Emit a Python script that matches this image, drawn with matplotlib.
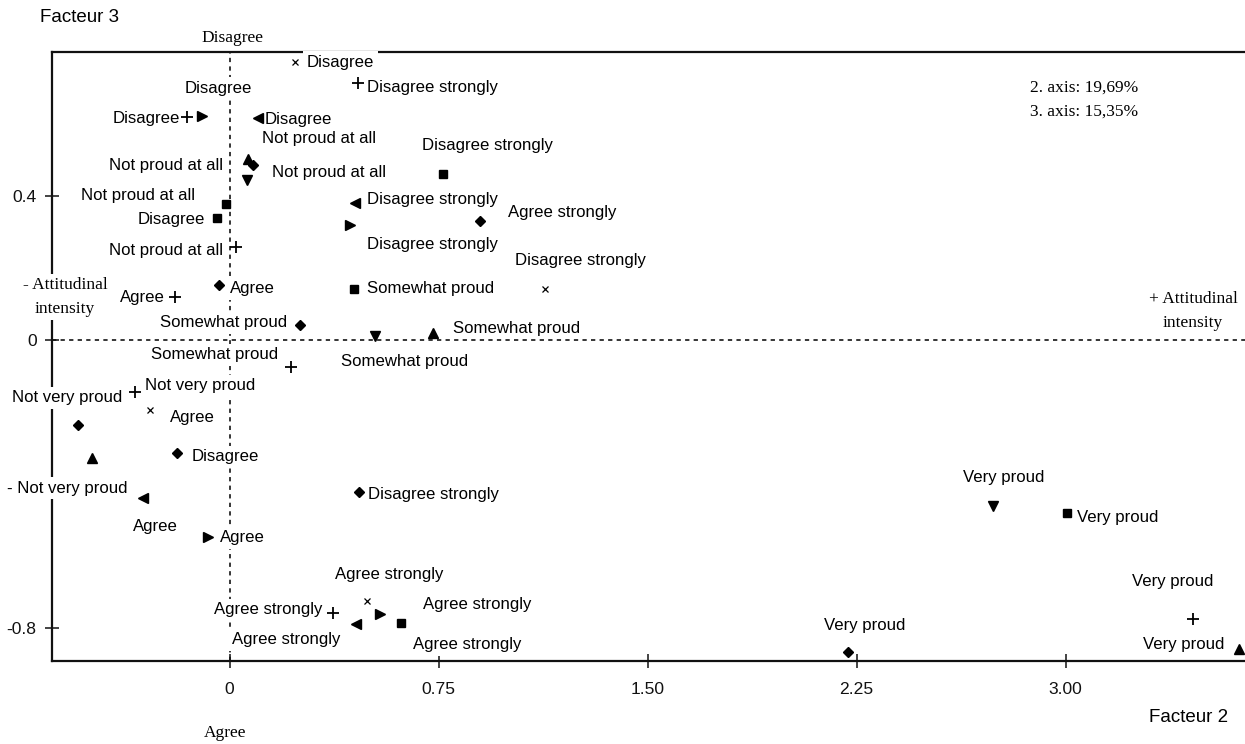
import matplotlib
matplotlib.use("Agg")
import matplotlib.pyplot as plt
from matplotlib import font_manager as fm

# Coordinates of the modalities on factor 2 (x) and factor 3 (y), one group per marker
plus_x = [0.461, -0.152, 0.023, -0.196, 0.221, -0.339, 0.371, 3.457]
plus_y = [0.714, 0.619, 0.258, 0.119, -0.075, -0.144, -0.758, -0.775]
plus_lab = ["Disagree strongly", "Disagree", "Not proud at all", "Agree",
            "Somewhat proud", "Not very proud", "Agree strongly", "Very proud"]

cross_x = [0.235, 1.132, -0.285, 0.493]
cross_y = [0.772, 0.142, -0.194, -0.725]
cross_lab = ["Disagree", "Disagree strongly", "Agree", "Agree strongly"]

diamond_x = [0.084, 0.899, -0.038, 0.253, -0.544, -0.188, 0.465, 2.219]
diamond_y = [0.486, 0.331, 0.153, 0.042, -0.236, -0.314, -0.422, -0.867]
diamond_lab = ["Not proud at all", "Agree strongly", "Agree", "Somewhat proud",
               "Not very proud", "Disagree", "Disagree strongly", "Very proud"]

square_x = [0.766, -0.013, -0.045, 0.447, 0.615, 3.005]
square_y = [0.461, 0.378, 0.339, 0.142, -0.786, -0.481]
square_lab = ["Disagree strongly", "Not proud at all", "Disagree",
              "Somewhat proud", "Agree strongly", "Very proud"]

tup_x = [0.066, 0.730, -0.493, 3.622]
tup_y = [0.503, 0.019, -0.328, -0.858]
tup_lab = ["Not proud at all", "Somewhat proud", "- Not very proud", "Very proud"]

tdown_x = [0.063, 0.522, 2.740]
tdown_y = [0.444, 0.011, -0.461]
tdown_lab = ["Not proud at all", "Somewhat proud", "Very proud"]

tleft_x = [0.102, 0.450, -0.310, 0.454]
tleft_y = [0.617, 0.381, -0.439, -0.789]
tleft_lab = ["Disagree", "Disagree strongly", "Agree", "Agree strongly"]

tright_x = [-0.099, 0.432, -0.077, 0.540]
tright_y = [0.622, 0.319, -0.547, -0.761]
tright_lab = ["Disagree", "Disagree strongly", "Agree", "Agree strongly"]

x_ticks = [0, 0.75, 1.50, 2.25, 3.00]
x_tick_labels = ["0", "0.75", "1.50", "2.25", "3.00"]
y_ticks = [0.4, 0, -0.8]
y_tick_labels = ["0.4", "0", "-0.8"]

# Label placement (pixel offsets from the marker, horizontal alignment)
plus_off = [(9, -5, "left"), (-7, -1, "right"), (-13, -3, "right"), (-10, 0, "right"),
            (-13, 12, "right"), (10, 6, "left"), (-11, 3, "right"), (-20, 37, "center")]
cross_off = [(12, 0, "left"), (35, 28, "center"), (20, -8, "left"), (22, 26, "center")]
diamond_off = [(9, 27, "left"), (28, 8, "left"), (11, -4, "left"), (-13, 2, "right"),
               (-11, 27, "center"), (15, -4, "left"), (9, -3, "left"), (17, 27, "center")]
square_off = [(44, 29, "center"), (-31, 8, "right"), (-12, -2, "right"), (13, 0, "left"),
              (12, -22, "left"), (10, -4, "left")]
tup_off = [(-25, -7, "right"), (20, 5, "left"), (-25, -30, "center"), (-14, 4, "right")]
tdown_off = [(25, 8, "left"), (30, -26, "center"), (11, 28, "center")]
tleft_off = [(7, -2, "left"), (12, 3, "left"), (12, -29, "center"), (-16, -16, "right")]
tright_off = [(16, 28, "center"), (17, -19, "left"), (12, -1, "left"), (43, 9, "left")]

_names = {f.name for f in fm.fontManager.ttflist}
NARROW = "Liberation Sans Narrow" if "Liberation Sans Narrow" in _names else "Liberation Sans"
narrow_scale = 1.0 if NARROW == "Liberation Sans Narrow" else 0.9
SANS = "Liberation Sans"
SERIF = "Liberation Serif"

W, H = 1245, 744
fig = plt.figure(figsize=(W / 100, H / 100), dpi=100)
fig.patch.set_facecolor("white")
ax = fig.add_axes([52 / W, (H - 661) / H, (W - 52) / W, (661 - 52) / H])
ax.set_xlim(-0.637, 3.644)
ax.set_ylim(-0.892, 0.800)

for side in ("left", "top", "bottom"):
    ax.spines[side].set_linewidth(1.6)
    ax.spines[side].set_color("#111111")
ax.spines["right"].set_visible(False)

ax.set_xticks(x_ticks)
ax.set_xticklabels(x_tick_labels)
ax.set_yticks(y_ticks)
ax.set_yticklabels(y_tick_labels)
ax.tick_params(direction="inout", length=10, width=1.1, colors="#111111",
               labelsize=14 * narrow_scale)
ax.tick_params(axis="x", pad=10)
ax.tick_params(axis="y", pad=6)
for lbl in ax.get_xticklabels() + ax.get_yticklabels():
    lbl.set_fontfamily(NARROW)

# Origin lines
ax.axhline(0, color="black", lw=1.1, ls=(0, (2.8, 2.8)), zorder=1)
ax.axvline(0, color="black", lw=1.1, ls=(0, (2.8, 2.8)), zorder=1)

groups = [
    (plus_x, plus_y, plus_lab, plus_off, dict(marker="+", ms=8, mew=1.3)),
    (cross_x, cross_y, cross_lab, cross_off, dict(marker="x", ms=5, mew=0.9)),
    (diamond_x, diamond_y, diamond_lab, diamond_off, dict(marker="D", ms=5.6)),
    (square_x, square_y, square_lab, square_off, dict(marker="s", ms=6.2)),
    (tup_x, tup_y, tup_lab, tup_off, dict(marker="^", ms=7.2)),
    (tdown_x, tdown_y, tdown_lab, tdown_off, dict(marker="v", ms=7.2)),
    (tleft_x, tleft_y, tleft_lab, tleft_off, dict(marker="<", ms=7.2)),
    (tright_x, tright_y, tright_lab, tright_off, dict(marker=">", ms=7.2)),
]

box = dict(facecolor="white", edgecolor="none", pad=2.5)
for xs, ys, labs, offs, style in groups:
    ax.plot(xs, ys, ls="none", color="black", mfc="black", mec="black",
            clip_on=False, zorder=6, **style)
    for x, y, lab, (dx, dy, ha) in zip(xs, ys, labs, offs):
        ax.annotate(lab, (x, y), xytext=(dx, dy), textcoords="offset pixels",
                    ha=ha, va="center", fontsize=12.1, family=SANS,
                    bbox=box, zorder=4, annotation_clip=False)


def ftext(px, py, s, **kw):
    fig.text(px / W, 1 - py / H, s, **kw)


# Axis names
ftext(40, 18, "Facteur 3", ha="left", va="center", fontsize=15 * narrow_scale, family=NARROW)
ftext(1228, 718, "Facteur 2", ha="right", va="center", fontsize=15 * narrow_scale, family=NARROW)

# Pole annotations
serif = dict(family=SERIF, fontsize=12.5, color="black")
ftext(232, 38, "Disagree", ha="center", va="center", **serif)
ftext(225, 733, "Agree", ha="center", va="center", **serif)
ftext(65, 297, "- Attitudinal\nintensity", ha="center", va="center",
      linespacing=1.6, bbox=box, zorder=5, **serif)
ftext(1193, 311, "+ Attitudinal\nintensity", ha="center", va="center",
      linespacing=1.6, bbox=box, zorder=5, **serif)
ftext(1030, 88, "2. axis: 19,69%", ha="left", va="center", **serif)
ftext(1030, 112, "3. axis: 15,35%", ha="left", va="center", **serif)

fig.savefig("out.png", dpi=100, facecolor="white")
